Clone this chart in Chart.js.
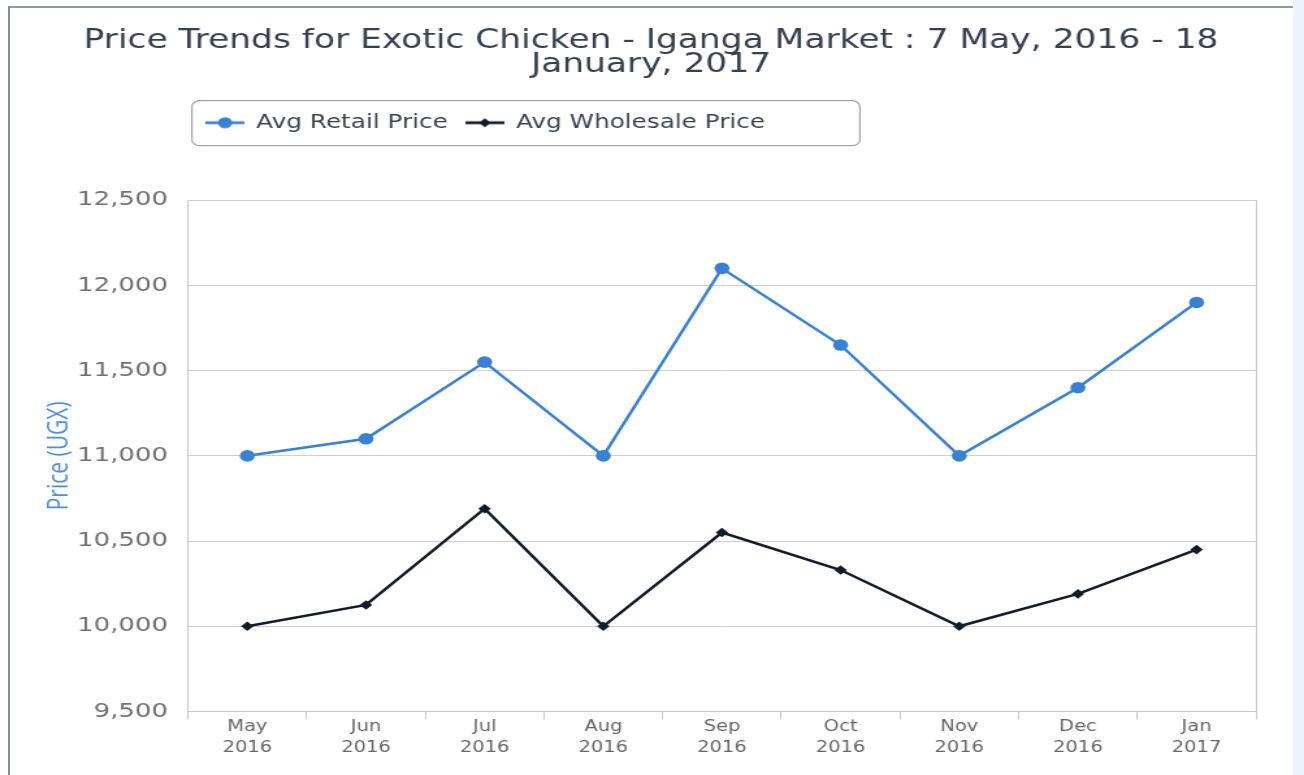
<!DOCTYPE html>
<html>
<head>
<meta charset="utf-8">
<script src="https://cdn.jsdelivr.net/npm/chart.js@4.4.1/dist/chart.umd.min.js"></script>
<style>
html, body { margin: 0; padding: 0; background: #fff; width: 1304px; height: 775px; overflow: hidden; }
#marco { position: absolute; left: 8px; top: 6px; width: 1285px; height: 800px; border-left: 2px solid #7d8ea2; border-top: 2px solid #8c9bab; }
#franja { position: absolute; left: 1293px; top: 0; width: 11px; height: 775px; background: #edf3fa; }
#myChart { position: absolute; left: 0; top: 0; }
</style>
</head>
<body>
<div id="marco"></div>
<div id="franja"></div>
<!-- the reference is stretched sideways, so the canvas is drawn narrower and widened by css -->
<canvas id="myChart" width="1003" height="775" style="width:1304px;height:775px"></canvas>
<script>
var meses = [['May', '2016'], ['Jun', '2016'], ['Jul', '2016'], ['Aug', '2016'], ['Sep', '2016'],
             ['Oct', '2016'], ['Nov', '2016'], ['Dec', '2016'], ['Jan', '2017']];
var precioMinorista = [11000, 11100, 11550, 11000, 12100, 11650, 11000, 11400, 11900];
var precioMayorista = [10000, 10125, 10690, 10000, 10550, 10330, 10000, 10190, 10450];
var ticksY = [9500, 10000, 10500, 11000, 11500, 12000, 12500];

var azul = '#3a80d3';
var negro = '#121c28';

// little line + marker symbols for the legend
function simbolo(color, forma) {
    var c = document.createElement('canvas');
    c.width = 30;
    c.height = 14;
    var g = c.getContext('2d');
    g.strokeStyle = color;
    g.lineWidth = 2.8;
    g.beginPath();
    g.moveTo(0, 7);
    g.lineTo(30, 7);
    g.stroke();
    g.fillStyle = color;
    g.beginPath();
    if (forma === 'circle') {
        g.arc(15, 7, 5.5, 0, Math.PI * 2);
    } else {
        g.moveTo(15, 2.5); g.lineTo(19.5, 7); g.lineTo(15, 11.5); g.lineTo(10.5, 7); g.closePath();
    }
    g.fill();
    return c;
}
var simbolos = [simbolo(azul, 'circle'), simbolo(negro, 'diamond')];

var marcoLeyenda = {
    id: 'marcoLeyenda',
    beforeLayout: function(chart) {
        var lg = chart.legend;
        if (lg && !lg._conHueco) {
            var fitOriginal = lg.fit;
            lg.fit = function() {
                fitOriginal.call(this);
                this.height += 58;
            };
            lg._conHueco = true;
        }
    },
    afterDraw: function(chart) {
        var lg = chart.legend;
        var cajas = lg.legendHitBoxes;
        if (!cajas || !cajas.length) return;
        var ultima = cajas[cajas.length - 1];
        var x = lg.left + 3;
        var y = lg.top + 1.5;
        var w = ultima.left + ultima.width + 73 - x;
        var ctx = chart.ctx;
        ctx.save();
        ctx.strokeStyle = '#a3a3a3';
        ctx.lineWidth = 1.2;
        ctx.beginPath();
        ctx.roundRect(x, y, w, 45, 6);
        ctx.stroke();
        ctx.restore();
    }
};

var ctx = document.getElementById('myChart').getContext('2d');
var myChart = new Chart(ctx, {
    type: 'line',
    data: {
        labels: meses,
        datasets: [{
            label: 'Avg Retail Price',
            data: precioMinorista,
            borderColor: azul,
            backgroundColor: azul,
            borderWidth: 2.5,
            pointStyle: 'circle',
            pointRadius: 5.8,
            pointBorderWidth: 0,
            tension: 0
        }, {
            label: 'Avg Wholesale Price',
            data: precioMayorista,
            borderColor: negro,
            backgroundColor: negro,
            borderWidth: 2.5,
            pointStyle: 'rectRot',
            pointRadius: 4.8,
            pointBorderWidth: 0,
            tension: 0
        }]
    },
    options: {
        responsive: false,
        animation: false,
        devicePixelRatio: 1,
        layout: { padding: { left: 35.5, right: 37, top: 0, bottom: 19.5 } },
        plugins: {
            title: {
                display: true,
                text: ['Price Trends for Exotic Chicken - Iganga Market : 7 May, 2016 - 18', 'January, 2017'],
                color: '#36404e',
                font: { family: 'DejaVu Sans', size: 26.5, weight: 'normal', lineHeight: 0.9 },
                padding: { top: 29, bottom: 22.5 }
            },
            legend: {
                position: 'top',
                align: 'start',
                fullSize: false,
                labels: {
                    usePointStyle: true,
                    pointStyleWidth: 29,
                    padding: 14,
                    color: '#3b4452',
                    font: { family: 'DejaVu Sans', size: 19 },
                    generateLabels: function(chart) {
                        return chart.data.datasets.map(function(ds, i) {
                            return {
                                text: ds.label,
                                pointStyle: simbolos[i],
                                fontColor: '#3b4452',
                                fillStyle: 'transparent',
                                strokeStyle: 'transparent',
                                lineWidth: 0,
                                hidden: false,
                                datasetIndex: i
                            };
                        });
                    }
                }
            },
            tooltip: { enabled: false }
        },
        scales: {
            x: {
                offset: true,
                grid: {
                    offset: true,
                    color: function(c) { return (c.type === 'scale' || c.index === 0) ? '#c9c9c9' : 'transparent'; },
                    tickColor: '#c9c9c9',
                    tickLength: 8
                },
                border: { display: true, color: '#c9c9c9' },
                ticks: {
                    color: '#666',
                    font: { family: 'DejaVu Sans', size: 15, lineHeight: 1.4 },
                    padding: -3,
                    maxRotation: 0,
                    autoSkip: false
                }
            },
            y: {
                min: 9500,
                max: 12500,
                afterBuildTicks: function(axis) {
                    axis.ticks = ticksY.map(function(v) { return { value: v }; });
                },
                grid: { color: '#cfcfcf', drawTicks: false },
                border: { display: false },
                ticks: {
                    color: '#707070',
                    font: { family: 'DejaVu Sans', size: 20 },
                    padding: 15.4,
                    callback: function(v) { return v.toLocaleString('en-US'); }
                },
                title: {
                    display: true,
                    text: 'Price (UGX)',
                    color: '#4f8fd4',
                    font: { family: 'Open Sans', size: 21, lineHeight: 1 },
                    padding: { top: 0, bottom: -12.7 }
                }
            }
        }
    },
    plugins: [marcoLeyenda]
});
</script>
</body>
</html>
